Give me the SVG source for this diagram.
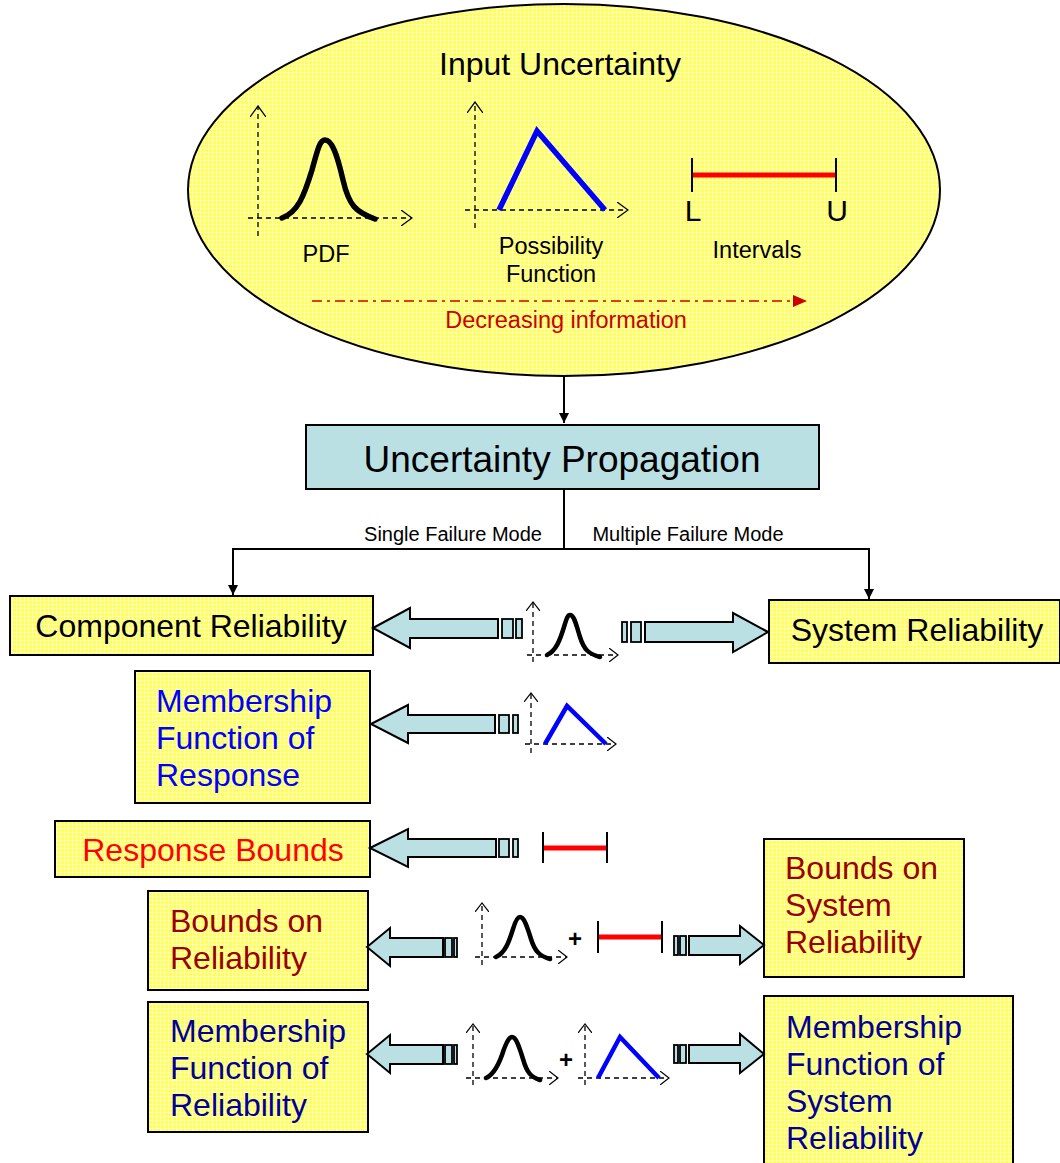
<svg xmlns="http://www.w3.org/2000/svg" width="1060" height="1163" viewBox="0 0 1060 1163">
  <defs>
    <!-- light yellow grid texture used by the ellipse and the result boxes -->
    <pattern id="grid" width="4" height="4" patternUnits="userSpaceOnUse">
      <rect width="4" height="4" fill="#ffff55"/>
      <rect width="4" height="1" fill="#ffffc0"/>
      <rect width="1" height="4" fill="#ffffc0"/>
    </pattern>
    <marker id="arr" viewBox="0 0 10 10" refX="10" refY="5" markerWidth="10" markerHeight="10" markerUnits="userSpaceOnUse" orient="auto">
      <path d="M0,0 L10,5 L0,10 z" fill="#000"/>
    </marker>
    <marker id="open" viewBox="0 0 12 16" refX="11" refY="8" markerWidth="12" markerHeight="16" markerUnits="userSpaceOnUse" orient="auto">
      <path d="M0,0 L11,8 L0,16" fill="none" stroke="#000" stroke-width="1.3"/>
    </marker>
    <marker id="openS" viewBox="0 0 10 14" refX="9" refY="7" markerWidth="10" markerHeight="14" markerUnits="userSpaceOnUse" orient="auto">
      <path d="M0,0 L9,7 L0,14" fill="none" stroke="#000" stroke-width="1.2"/>
    </marker>
    <marker id="redTip" viewBox="0 0 14 12" refX="13" refY="6" markerWidth="14" markerHeight="12" markerUnits="userSpaceOnUse" orient="auto">
      <path d="M0,0 L14,6 L0,12 z" fill="#cc0000"/>
    </marker>
    <style>
      text { font-family: "Liberation Sans", Arial, sans-serif; }
      .box { fill: url(#grid); stroke: #000; stroke-width: 2; }
      .prop { fill: #bae0e3; stroke: #000; stroke-width: 2; }
      .blk { fill: #bae0e3; stroke: #000; stroke-width: 2; stroke-linejoin: miter; }
      .tail { fill: #bae0e3; stroke: #000; stroke-width: 1.8; }
      .axis { fill: none; stroke: #000; stroke-width: 1.3; stroke-dasharray: 5 4; }
      .bell { fill: none; stroke: #000; stroke-width: 5.5; stroke-linecap: round; stroke-linejoin: round; }
      .bellS { fill: none; stroke: #000; stroke-width: 4.5; stroke-linecap: round; stroke-linejoin: round; }
      .tri { fill: none; stroke: #0000ff; stroke-width: 5.5; stroke-linejoin: miter; }
      .triS { fill: none; stroke: #0000ff; stroke-width: 4.5; stroke-linejoin: miter; }
      .bar { stroke: #ff0000; stroke-width: 5; }
      .tick { stroke: #000; stroke-width: 2; }
      .link { fill: none; stroke: #000; stroke-width: 2; }
      .big { font-size: 32px; }
      .small { font-size: 23.5px; }
    </style>
  </defs>

  <!-- input uncertainty ellipse -->
  <g id="input-uncertainty">
    <ellipse cx="564" cy="190" rx="376" ry="186" fill="url(#grid)" stroke="#000" stroke-width="2"/>
    <text x="560" y="75" font-size="32" text-anchor="middle">Input Uncertainty</text>

    <!-- PDF sketch -->
    <line class="axis" x1="258" y1="236" x2="258" y2="106" marker-end="url(#open)"/>
    <line class="axis" x1="248" y1="218" x2="412" y2="218" marker-end="url(#open)"/>
    <path class="bell" d="M282,218 C298,212 304,196 312,170 C318,148 320,140 325,140 C332,140 337,154 343,180 C349,206 356,212 375,219"/>
    <text x="326" y="262" class="small" text-anchor="middle">PDF</text>

    <!-- possibility sketch -->
    <line class="axis" x1="475" y1="228" x2="475" y2="102" marker-end="url(#open)"/>
    <line class="axis" x1="465" y1="210" x2="628" y2="210" marker-end="url(#open)"/>
    <polyline class="tri" points="499,210 537,131 605,210"/>
    <text x="551" y="254" class="small" text-anchor="middle">Possibility</text>
    <text x="551" y="282" class="small" text-anchor="middle">Function</text>

    <!-- interval sketch -->
    <line class="bar" x1="692" y1="175" x2="836" y2="175"/>
    <line class="tick" x1="692" y1="158" x2="692" y2="192"/>
    <line class="tick" x1="836" y1="158" x2="836" y2="192"/>
    <text x="693" y="221" font-size="30" text-anchor="middle">L</text>
    <text x="837" y="221" font-size="30" text-anchor="middle">U</text>
    <text x="757" y="258" class="small" text-anchor="middle">Intervals</text>

    <line x1="312" y1="301" x2="806" y2="301" stroke="#cc0000" stroke-width="1.5" stroke-dasharray="10 5 3 5" marker-end="url(#redTip)"/>
    <text x="566" y="328" class="small" fill="#cc0000" text-anchor="middle">Decreasing information</text>
  </g>

  <g id="uncertainty-propagation">
    <rect class="prop" x="306" y="425" width="513" height="64"/>
    <text x="562" y="472" font-size="37" text-anchor="middle">Uncertainty Propagation</text>
  </g>

  <g id="component-reliability">
    <rect class="box" x="10" y="596" width="363" height="59"/>
    <text x="191" y="637" class="big" text-anchor="middle">Component Reliability</text>
  </g>

  <g id="system-reliability">
    <rect class="box" x="769" y="600" width="291" height="63"/>
    <text x="917" y="641" class="big" text-anchor="middle">System Reliability</text>
  </g>

  <g id="membership-response">
    <rect class="box" x="135" y="671" width="235" height="132"/>
    <text class="big" fill="#0000ff"><tspan x="156" y="712">Membership</tspan><tspan x="156" y="749">Function of</tspan><tspan x="156" y="786">Response</tspan></text>
  </g>

  <g id="response-bounds">
    <rect class="box" x="55" y="821" width="315" height="56"/>
    <text x="213" y="861" class="big" fill="#ff0000" text-anchor="middle">Response Bounds</text>
  </g>

  <g id="bounds-reliability">
    <rect class="box" x="148" y="891" width="220" height="99"/>
    <text class="big" fill="#990000"><tspan x="170" y="932">Bounds on</tspan><tspan x="170" y="969">Reliability</tspan></text>
  </g>

  <g id="bounds-system-reliability">
    <rect class="box" x="764" y="839" width="200" height="138"/>
    <text class="big" fill="#990000"><tspan x="785" y="879">Bounds on</tspan><tspan x="785" y="916">System</tspan><tspan x="785" y="953">Reliability</tspan></text>
  </g>

  <g id="membership-reliability">
    <rect class="box" x="148" y="1002" width="220" height="130"/>
    <text class="big" fill="#000099"><tspan x="170" y="1042">Membership</tspan><tspan x="170" y="1079">Function of</tspan><tspan x="170" y="1116">Reliability</tspan></text>
  </g>

  <g id="membership-system-reliability">
    <rect class="box" x="764" y="996" width="249" height="172"/>
    <text class="big" fill="#000099"><tspan x="786" y="1038">Membership</tspan><tspan x="786" y="1075">Function of</tspan><tspan x="786" y="1112">System</tspan><tspan x="786" y="1149">Reliability</tspan></text>
  </g>

  <!-- connectors -->
  <g id="connectors">
    <line class="link" x1="564" y1="376" x2="564" y2="423" marker-end="url(#arr)"/>
    <line class="link" x1="564" y1="489" x2="564" y2="549"/>
    <line class="link" x1="232" y1="549" x2="870" y2="549"/>
    <line class="link" x1="233" y1="549" x2="233" y2="595" marker-end="url(#arr)"/>
    <line class="link" x1="869" y1="549" x2="869" y2="599" marker-end="url(#arr)"/>
    <text x="453" y="541" font-size="20" text-anchor="middle">Single Failure Mode</text>
    <text x="688" y="541" font-size="20" text-anchor="middle">Multiple Failure Mode</text>

    <!-- row 1: PDF to component / system reliability -->
    <polygon class="blk" points="373,628 410,608 410,619 498,619 498,638 410,638 410,648"/>
    <rect class="tail" x="502" y="619" width="11" height="19"/>
    <rect class="tail" x="516" y="619" width="6" height="19"/>
    <line class="axis" x1="533" y1="662" x2="533" y2="602" marker-end="url(#openS)"/>
    <line class="axis" x1="527" y1="655" x2="618" y2="655" marker-end="url(#openS)"/>
    <path class="bellS" d="M547,655 C556,651 560,640 564,627 C567,617 568,615 570,615 C574,615 576,624 580,637 C584,650 589,654 600,657"/>
    <rect class="tail" x="622" y="622" width="5" height="20"/>
    <rect class="tail" x="631" y="622" width="10" height="20"/>
    <polygon class="blk" points="768,632 733,613 733,622 645,622 645,642 733,642 733,652"/>

    <!-- row 2: possibility to membership function of response -->
    <polygon class="blk" points="371,724 408,705 408,715 495,715 495,733 408,733 408,743"/>
    <rect class="tail" x="499" y="715" width="10" height="18"/>
    <rect class="tail" x="513" y="715" width="5" height="18"/>
    <line class="axis" x1="531" y1="753" x2="531" y2="693" marker-end="url(#openS)"/>
    <line class="axis" x1="525" y1="744" x2="616" y2="744" marker-end="url(#openS)"/>
    <polyline class="triS" points="545,744 567,706 606,744"/>

    <!-- row 3: interval to response bounds -->
    <polygon class="blk" points="370,848 408,829 408,839 496,839 496,857 408,857 408,867"/>
    <rect class="tail" x="499" y="839" width="10" height="18"/>
    <rect class="tail" x="513" y="839" width="5" height="18"/>
    <line class="bar" x1="543" y1="848" x2="607" y2="848"/>
    <line class="tick" x1="543" y1="832" x2="543" y2="863"/>
    <line class="tick" x1="607" y1="832" x2="607" y2="863"/>

    <!-- row 4: PDF + interval to bounds on reliability -->
    <polygon class="blk" points="367,947 390,928 390,938 443,938 443,957 390,957 390,966"/>
    <rect class="tail" x="445" y="938" width="7" height="19"/>
    <rect class="tail" x="454" y="938" width="3" height="19"/>
    <line class="axis" x1="482" y1="965" x2="482" y2="903" marker-end="url(#openS)"/>
    <line class="axis" x1="475" y1="957" x2="567" y2="957" marker-end="url(#openS)"/>
    <path class="bellS" d="M496,957 C505,953 509,942 513,929 C516,919 518,917 520,917 C524,917 527,926 531,939 C535,952 540,956 550,959"/>
    <text x="575" y="947" font-size="24" font-weight="bold" text-anchor="middle">+</text>
    <line class="bar" x1="598" y1="937" x2="662" y2="937"/>
    <line class="tick" x1="598" y1="921" x2="598" y2="953"/>
    <line class="tick" x1="662" y1="921" x2="662" y2="953"/>
    <rect class="tail" x="674" y="936" width="4" height="19"/>
    <rect class="tail" x="680" y="936" width="6" height="19"/>
    <polygon class="blk" points="764,945 740,926 740,936 689,936 689,955 740,955 740,964"/>

    <!-- row 5: PDF + possibility to membership function of reliability -->
    <polygon class="blk" points="367,1054 390,1035 390,1045 443,1045 443,1064 390,1064 390,1073"/>
    <rect class="tail" x="445" y="1045" width="7" height="19"/>
    <rect class="tail" x="454" y="1045" width="3" height="19"/>
    <line class="axis" x1="473" y1="1085" x2="473" y2="1024" marker-end="url(#openS)"/>
    <line class="axis" x1="466" y1="1078" x2="558" y2="1078" marker-end="url(#openS)"/>
    <path class="bellS" d="M486,1078 C495,1074 500,1062 504,1049 C508,1039 510,1037 512,1037 C516,1037 519,1046 523,1059 C527,1073 531,1077 540,1080"/>
    <text x="566" y="1068" font-size="24" font-weight="bold" text-anchor="middle">+</text>
    <line class="axis" x1="585" y1="1085" x2="585" y2="1024" marker-end="url(#openS)"/>
    <line class="axis" x1="578" y1="1078" x2="669" y2="1078" marker-end="url(#openS)"/>
    <polyline class="triS" points="598,1078 620,1037 659,1078"/>
    <rect class="tail" x="674" y="1045" width="4" height="18"/>
    <rect class="tail" x="680" y="1045" width="6" height="18"/>
    <polygon class="blk" points="764,1054 740,1034 740,1045 689,1045 689,1063 740,1063 740,1073"/>
  </g>
</svg>
